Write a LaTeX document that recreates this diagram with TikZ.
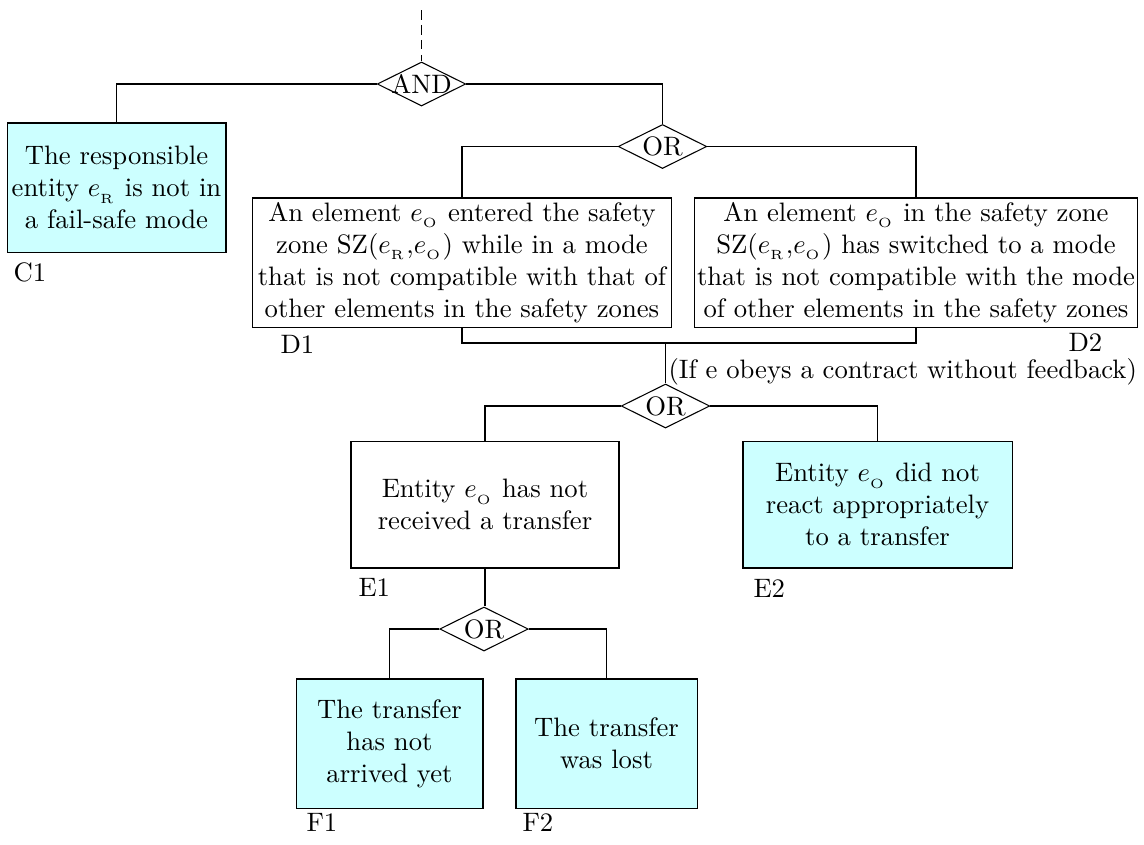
\documentclass[tikz,border=0pt]{standalone}
\usetikzlibrary{shapes.geometric}
\definecolor{evfill}{RGB}{204,255,255}
\newcommand{\sub}[1]{_{_{\mathrm{#1}}}}
\begin{document}
\begin{tikzpicture}[x=0.375pt,y=-0.375pt,
  event/.style={draw, rectangle, align=center, inner sep=0pt, line width=0.4pt},
  basic/.style={event, fill=evfill},
  gate/.style={draw, diamond, inner sep=0pt, line width=0.4pt,
               minimum width=33.2pt, minimum height=16.5pt},
  tag/.style={anchor=west, inner sep=0pt},
  wire/.style={line width=0.4pt}]
\useasboundingbox (0,0) rectangle (1144,844);

% gates
\node[gate, label={[name=andtxt, inner sep=0pt]center:AND}] (and) at (421.5,84) {};
\node[gate, label={[name=or1txt, inner sep=0pt]center:OR}] (or1) at (662.5,146.5) {};
\node[gate, label={[name=or2txt, inner sep=0pt]center:OR}] (or2) at (665.5,406) {};
\node[gate, label={[name=or3txt, inner sep=0pt]center:OR}] (or3) at (484,629) {};

% events
\node[basic, minimum width=82.1pt, minimum height=48.4pt] (c1) at (116.5,187.5)
  {The responsible\\ entity $e\sub{R}$ is not in\\ a fail-safe mode};
\node[event, minimum width=156.8pt, minimum height=48.4pt] (d1) at (462,262.5)
  {An element $e\sub{O}$ entered the safety\\
   zone SZ($e\sub{R}$,$e\sub{O}$) while in a mode\\
   that is not compatible with that of\\
   other elements in the safety zones};
\node[event, minimum width=165.8pt, minimum height=48.4pt] (d2) at (916,262.5)
  {An element $e\sub{O}$ in the safety zone\\
   SZ($e\sub{R}$,$e\sub{O}$) has switched to a mode\\
   that is not compatible with the mode\\
   of other elements in the safety zones};
\node[event, minimum width=100.5pt, minimum height=47.6pt] (e1) at (485,504.5)
  {Entity $e\sub{O}$ has not\\ received a transfer};
\node[basic, minimum width=100.9pt, minimum height=47.6pt] (e2) at (877.5,504.5)
  {Entity $e\sub{O}$ did not\\ react appropriately\\ to a transfer};
\node[basic, minimum width=70.1pt, minimum height=48.4pt] (f1) at (389.5,743.5)
  {The transfer\\ has not\\ arrived yet};
\node[basic, minimum width=67.9pt, minimum height=48.4pt] (f2) at (606.5,743.5)
  {The transfer\\ was lost};

% identifiers
\node[tag] (c1tag) at (13,272) {C1};
\node[tag] (d1tag) at (280,344) {D1};
\node[tag] (d2tag) at (1068,342) {D2};
\node[tag] (e1tag) at (358,587) {E1};
\node[tag] (e2tag) at (753,588) {E2};
\node[tag] (f1tag) at (306,822) {F1};
\node[tag] (f2tag) at (522,822) {F2};

% condition note
\node[anchor=base west, inner sep=0pt] (cond) at (668,378)
  {(If e obeys a contract without feedback)};

% connectors
\coordinate (top) at (421.5,10);
\coordinate (join) at (665.5,343);
\draw[wire, dash pattern=on 3.6pt off 2pt] (top) -- (and.north);
\draw[wire] (and.west) -| (c1.north);
\draw[wire] (and.east) -| (or1.north);
\draw[wire] (or1.west) -| (d1.north);
\draw[wire] (or1.east) -| (d2.north);
\draw[wire] (d1.south) |- (join) -| (d2.south);
\draw[wire] (join) -- (or2.north);
\draw[wire] (or2.west) -| (e1.north);
\draw[wire] (or2.east) -| (e2.north);
\draw[wire] (e1.south) -- (e1.south |- or3.north);
\draw[wire] (or3.west) -| (f1.north);
\draw[wire] (or3.east) -| (f2.north);
\end{tikzpicture}
\end{document}
